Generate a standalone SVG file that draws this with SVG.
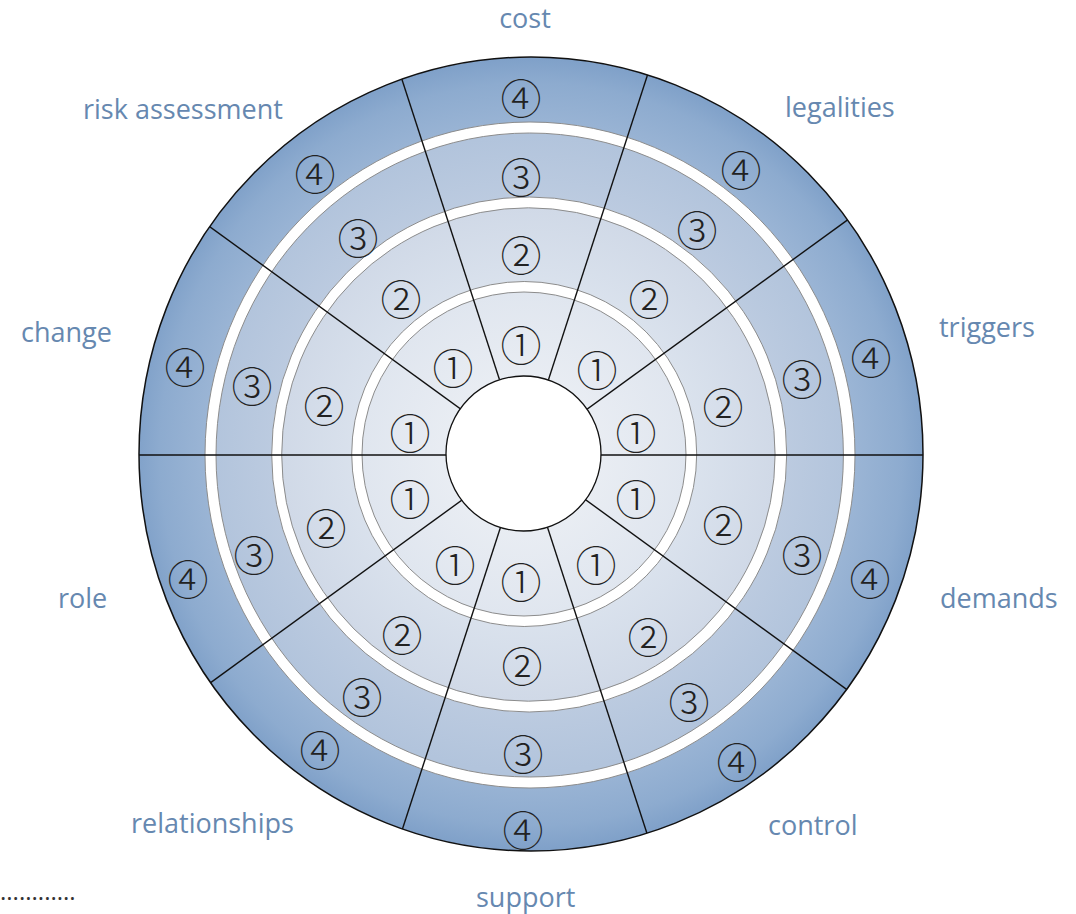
<svg xmlns="http://www.w3.org/2000/svg" width="1076" height="914" viewBox="0 0 1076 914">
  <style>
    .label { font-family: "Open Sans", "Liberation Sans", sans-serif; font-size: 27px; fill: #6688b0; }
    .num { font-family: "Noto Sans CJK JP", "DejaVu Sans", sans-serif; font-size: 41px; font-weight: 300; fill: #222; text-anchor: middle; dominant-baseline: central; }
    .gap { fill: #fff; stroke: #8c8c8c; stroke-width: 1; }
    .edge { stroke: #8c8c8c; stroke-width: 1; }
    .spoke { stroke: #111; stroke-width: 1.4; fill: none; }
  </style>
  <defs>
    <radialGradient id="g4" gradientUnits="userSpaceOnUse" cx="531" cy="454" r="395">
      <stop offset="0.82" stop-color="#9bb5d5"/>
      <stop offset="0.94" stop-color="#8dabcf"/>
      <stop offset="1" stop-color="#80a1c9"/>
    </radialGradient>
    <radialGradient id="g3" gradientUnits="userSpaceOnUse" cx="530" cy="454" r="318">
      <stop offset="0.8" stop-color="#bccbe0"/>
      <stop offset="1" stop-color="#b2c4dc"/>
    </radialGradient>
    <radialGradient id="g2" gradientUnits="userSpaceOnUse" cx="528" cy="454" r="247">
      <stop offset="0.68" stop-color="#dae2ed"/>
      <stop offset="1" stop-color="#d0d9e7"/>
    </radialGradient>
    <radialGradient id="g1" gradientUnits="userSpaceOnUse" cx="524" cy="454" r="162">
      <stop offset="0.45" stop-color="#e9edf3"/>
      <stop offset="1" stop-color="#e0e6ef"/>
    </radialGradient>
    <clipPath id="disc">
      <ellipse cx="531" cy="454" rx="392" ry="397"/>
    </clipPath>
  </defs>

  <!-- concentric bands, outermost first -->
  <g id="band4">
    <ellipse cx="531" cy="454" rx="392" ry="397" fill="url(#g4)"/>
    <ellipse class="gap" cx="530" cy="455" rx="325" ry="333"/>
  </g>
  <g id="band3">
    <ellipse cx="529.7" cy="455" rx="313.7" ry="322" fill="url(#g3)" class="edge"/>
    <circle class="gap" cx="529.2" cy="454.5" r="257.5"/>
  </g>
  <g id="band2">
    <circle cx="528.4" cy="454.5" r="246.7" fill="url(#g2)" class="edge"/>
    <circle class="gap" cx="524.2" cy="454" r="172.5"/>
  </g>
  <g id="band1">
    <circle cx="524" cy="454" r="162" fill="url(#g1)" class="edge"/>
  </g>

  <!-- sector dividers -->
  <g id="spokes" clip-path="url(#disc)">
    <line class="spoke" x1="104" y1="455" x2="944" y2="455"/>
    <line class="spoke" x1="184.2" y1="701.9" x2="863.8" y2="208.1"/>
    <line class="spoke" x1="394.2" y1="854.4" x2="653.8" y2="55.6"/>
    <line class="spoke" x1="394.2" y1="55.6" x2="653.8" y2="854.4"/>
    <line class="spoke" x1="184.2" y1="208.1" x2="863.8" y2="701.9"/>
  </g>

  <g id="hub">
    <circle cx="523.5" cy="453.5" r="77.5" fill="#fff" stroke="#111" stroke-width="1.3"/>
  </g>
  <g id="rim">
    <ellipse cx="531" cy="454" rx="392" ry="397" fill="none" stroke="#111" stroke-width="1.5"/>
  </g>

  <!-- level markers per sector -->
  <g id="level4">
    <text class="num" x="521" y="96">④</text>
    <text class="num" x="741" y="168">④</text>
    <text class="num" x="871" y="356">④</text>
    <text class="num" x="870" y="577">④</text>
    <text class="num" x="737" y="760">④</text>
    <text class="num" x="523" y="828">④</text>
    <text class="num" x="320" y="748">④</text>
    <text class="num" x="188" y="577">④</text>
    <text class="num" x="185" y="365">④</text>
    <text class="num" x="315" y="172">④</text>
  </g>
  <g id="level3">
    <text class="num" x="521" y="175">③</text>
    <text class="num" x="697" y="228">③</text>
    <text class="num" x="802" y="377">③</text>
    <text class="num" x="802" y="553">③</text>
    <text class="num" x="689" y="700">③</text>
    <text class="num" x="523" y="752">③</text>
    <text class="num" x="362" y="695">③</text>
    <text class="num" x="254" y="553">③</text>
    <text class="num" x="252" y="384">③</text>
    <text class="num" x="358" y="236">③</text>
  </g>
  <g id="level2">
    <text class="num" x="521" y="253">②</text>
    <text class="num" x="649" y="297">②</text>
    <text class="num" x="723" y="405">②</text>
    <text class="num" x="723" y="523">②</text>
    <text class="num" x="648" y="635">②</text>
    <text class="num" x="522" y="664">②</text>
    <text class="num" x="402" y="633">②</text>
    <text class="num" x="326" y="526">②</text>
    <text class="num" x="324" y="404">②</text>
    <text class="num" x="401" y="297">②</text>
  </g>
  <g id="level1">
    <text class="num" x="521" y="343">①</text>
    <text class="num" x="597" y="368">①</text>
    <text class="num" x="636" y="431">①</text>
    <text class="num" x="636" y="497">①</text>
    <text class="num" x="596" y="563">①</text>
    <text class="num" x="521" y="580">①</text>
    <text class="num" x="455" y="563">①</text>
    <text class="num" x="410" y="497">①</text>
    <text class="num" x="410" y="431">①</text>
    <text class="num" x="453" y="366">①</text>
  </g>

  <!-- sector names -->
  <g id="labels">
    <text class="label" x="525" y="28" text-anchor="middle">cost</text>
    <text class="label" x="785" y="117">legalities</text>
    <text class="label" x="939" y="337">triggers</text>
    <text class="label" x="940" y="608">demands</text>
    <text class="label" x="768" y="835">control</text>
    <text class="label" x="476" y="907">support</text>
    <text class="label" x="131" y="833">relationships</text>
    <text class="label" x="58" y="608">role</text>
    <text class="label" x="21" y="342">change</text>
    <text class="label" x="83" y="119">risk assessment</text>
  </g>

  <text x="0" y="900" font-family="Open Sans, sans-serif" font-size="24" fill="#333">............</text>
</svg>
